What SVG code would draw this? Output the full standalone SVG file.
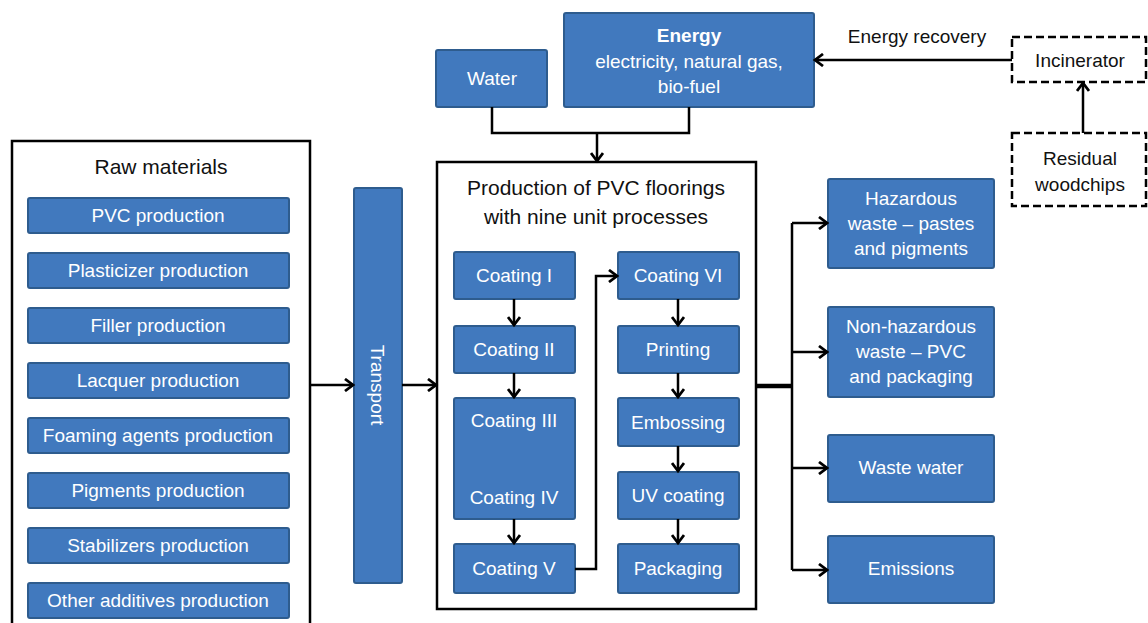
<svg xmlns="http://www.w3.org/2000/svg" width="1148" height="623" viewBox="0 0 1148 623">
<style>
.b{fill:#4179BE;stroke:#2E5C8E;stroke-width:2}
.t{font-family:"Liberation Sans",Arial,sans-serif;font-size:19px;fill:#fff;text-anchor:middle}
.k{font-family:"Liberation Sans",Arial,sans-serif;font-size:19px;fill:#111;text-anchor:middle}
.h{font-size:21px}
.frame{fill:#fff;stroke:#000;stroke-width:2.5}
.dash{fill:#fff;stroke:#000;stroke-width:2.5;stroke-dasharray:8,4}
.c{fill:none;stroke:#000;stroke-width:2.5}
.a{marker-end:url(#ar)}
</style>
<defs>
<marker id="ar" markerUnits="userSpaceOnUse" markerWidth="14" markerHeight="14" refX="9" refY="7" orient="auto">
<path d="M1,1 L9,7 L1,13" fill="none" stroke="#000" stroke-width="2.8"/>
</marker>
</defs>
<rect width="1148" height="623" fill="#fff"/>

<g id="raw-materials">
<rect class="frame" x="12" y="141" width="298" height="500"/>
<text class="k h" x="161" y="174">Raw materials</text>
</g>
<g id="pvc-production"><rect class="b" x="28" y="198" width="261" height="35" rx="2"/><text class="t" x="158" y="222">PVC production</text></g>
<g id="plasticizer-production"><rect class="b" x="28" y="253" width="261" height="35" rx="2"/><text class="t" x="158" y="277">Plasticizer production</text></g>
<g id="filler-production"><rect class="b" x="28" y="308" width="261" height="35" rx="2"/><text class="t" x="158" y="332">Filler production</text></g>
<g id="lacquer-production"><rect class="b" x="28" y="363" width="261" height="35" rx="2"/><text class="t" x="158" y="387">Lacquer production</text></g>
<g id="foaming-production"><rect class="b" x="28" y="418" width="261" height="35" rx="2"/><text class="t" x="158" y="442">Foaming agents production</text></g>
<g id="pigments-production"><rect class="b" x="28" y="473" width="261" height="35" rx="2"/><text class="t" x="158" y="497">Pigments production</text></g>
<g id="stabilizers-production"><rect class="b" x="28" y="528" width="261" height="35" rx="2"/><text class="t" x="158" y="552">Stabilizers production</text></g>
<g id="other-production"><rect class="b" x="28" y="583" width="261" height="35" rx="2"/><text class="t" x="158" y="607">Other additives production</text></g>

<g id="transport"><rect class="b" x="354" y="188" width="48" height="395" rx="2"/><text class="t" transform="translate(371,385) rotate(90)">Transport</text></g>

<g id="water"><rect class="b" x="436" y="50" width="111" height="57" rx="2"/><text class="t" x="492" y="85">Water</text></g>
<g id="energy"><rect class="b" x="564" y="13" width="250" height="94" rx="2"/>
<text class="t" x="689" y="42" font-weight="bold">Energy</text>
<text class="t" x="689" y="68">electricity, natural gas,</text>
<text class="t" x="689" y="93">bio-fuel</text></g>

<g id="incinerator"><rect class="dash" x="1012" y="37" width="134" height="45"/><text class="k" x="1080" y="67">Incinerator</text></g>
<g id="woodchips"><rect class="dash" x="1012" y="133" width="134" height="73"/><text class="k" x="1080" y="165">Residual</text><text class="k" x="1080" y="191">woodchips</text></g>

<g id="production">
<rect class="frame" x="437" y="162" width="319" height="447"/>
<text class="k h" x="596" y="195">Production of PVC floorings</text>
<text class="k h" x="596" y="224">with nine unit processes</text>
</g>
<g id="coating1"><rect class="b" x="454" y="252" width="121" height="47" rx="2"/><text class="t" x="514" y="282">Coating I</text></g>
<g id="coating2"><rect class="b" x="454" y="326" width="121" height="47" rx="2"/><text class="t" x="514" y="356">Coating II</text></g>
<g id="coating34"><rect class="b" x="454" y="398" width="121" height="121" rx="2"/><text class="t" x="514" y="427">Coating III</text><text class="t" x="514" y="504">Coating IV</text></g>
<g id="coating5"><rect class="b" x="454" y="544" width="121" height="49" rx="2"/><text class="t" x="514" y="575">Coating V</text></g>
<g id="coating6"><rect class="b" x="618" y="252" width="121" height="47" rx="2"/><text class="t" x="678" y="282">Coating VI</text></g>
<g id="printing"><rect class="b" x="618" y="326" width="121" height="47" rx="2"/><text class="t" x="678" y="356">Printing</text></g>
<g id="embossing"><rect class="b" x="618" y="398" width="121" height="48" rx="2"/><text class="t" x="678" y="429">Embossing</text></g>
<g id="uv-coating"><rect class="b" x="618" y="472" width="121" height="47" rx="2"/><text class="t" x="678" y="502">UV coating</text></g>
<g id="packaging"><rect class="b" x="618" y="544" width="121" height="49" rx="2"/><text class="t" x="678" y="575">Packaging</text></g>

<g id="hazardous"><rect class="b" x="828" y="179" width="166" height="89" rx="2"/><text class="t" x="911" y="205">Hazardous</text><text class="t" x="911" y="230">waste – pastes</text><text class="t" x="911" y="255">and pigments</text></g>
<g id="non-hazardous"><rect class="b" x="828" y="307" width="166" height="90" rx="2"/><text class="t" x="911" y="333">Non-hazardous</text><text class="t" x="911" y="358">waste – PVC</text><text class="t" x="911" y="383">and packaging</text></g>
<g id="waste-water"><rect class="b" x="828" y="435" width="166" height="67" rx="2"/><text class="t" x="911" y="474">Waste water</text></g>
<g id="emissions"><rect class="b" x="828" y="536" width="166" height="67" rx="2"/><text class="t" x="911" y="575">Emissions</text></g>

<g id="connectors">
<path class="c" d="M492,107 V133 H689 V107"/>
<path class="c a" d="M597,133 V161"/>
<path class="c a" d="M1012,60 H815"/>
<text class="k" x="917" y="43">Energy recovery</text>
<path class="c a" d="M1083,133 V83"/>
<path class="c a" d="M310,385 H353"/>
<path class="c a" d="M402,385 H436"/>
<path class="c a" d="M514,299 V325"/>
<path class="c a" d="M514,373 V397"/>
<path class="c a" d="M514,519 V543"/>
<path class="c a" d="M575,569 H596 V276 H617"/>
<path class="c a" d="M678,299 V325"/>
<path class="c a" d="M678,373 V397"/>
<path class="c a" d="M678,446 V471"/>
<path class="c a" d="M678,519 V543"/>
<path fill="none" stroke="#000" stroke-width="4.5" d="M756,386 H792"/>
<path class="c" d="M792,223 V570"/>
<path class="c a" d="M792,223 H827"/>
<path class="c a" d="M792,352 H827"/>
<path class="c a" d="M792,468 H827"/>
<path class="c a" d="M792,570 H827"/>
</g>
</svg>
